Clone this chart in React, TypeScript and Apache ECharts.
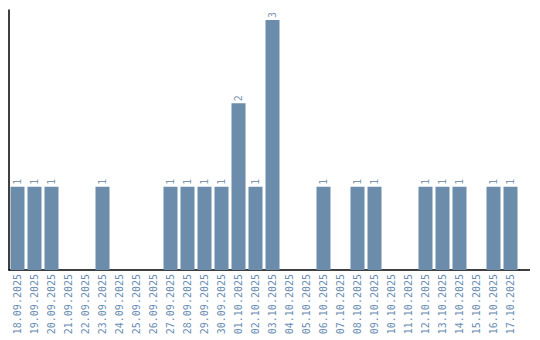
import React, { useEffect, useRef } from "react";
import * as echarts from "echarts";

const categories = [
  "18.09.2025", "19.09.2025", "20.09.2025", "21.09.2025", "22.09.2025",
  "23.09.2025", "24.09.2025", "25.09.2025", "26.09.2025", "27.09.2025",
  "28.09.2025", "29.09.2025", "30.09.2025", "01.10.2025", "02.10.2025",
  "03.10.2025", "04.10.2025", "05.10.2025", "06.10.2025", "07.10.2025",
  "08.10.2025", "09.10.2025", "10.10.2025", "11.10.2025", "12.10.2025",
  "13.10.2025", "14.10.2025", "15.10.2025", "16.10.2025", "17.10.2025",
];
const values = [1, 1, 1, 0, 0, 1, 0, 0, 0, 1, 1, 1, 1, 2, 1, 3, 0, 0, 1, 0, 1, 1, 0, 0, 1, 1, 1, 0, 1, 1];

const BAR = "#6b8cab";
const LABEL = "#6a8db2";

export default function App() {
  const ref = useRef<HTMLDivElement>(null);
  useEffect(() => {
    const chart = echarts.init(ref.current!, null, { renderer: "svg" });
    chart.setOption({
      animation: false,
      grid: { left: 9, top: 10, width: 510, height: 260, containLabel: false },
      xAxis: {
        type: "category",
        data: categories,
        axisLine: { show: true, lineStyle: { color: "#000", width: 1.5 } },
        axisTick: { show: false },
        axisLabel: {
          rotate: 90,
          interval: 0,
          color: LABEL,
          fontFamily: "DejaVu Sans Mono",
          fontSize: 10,
          margin: 4,
        },
      },
      yAxis: {
        type: "value",
        min: 0,
        max: 3.12,
        axisLine: { show: true, lineStyle: { color: "#000", width: 1.5 } },
        axisTick: { show: false },
        axisLabel: { show: false },
        splitLine: { show: false },
      },
      graphic: [
        {
          type: "line",
          shape: { x1: 519, y1: 270, x2: 530, y2: 270 },
          style: { stroke: "#000", lineWidth: 1.5 },
        },
      ],
      series: [
        {
          type: "bar",
          data: values,
          barWidth: 14,
          itemStyle: { color: BAR },
          label: {
            show: true,
            position: "top",
            rotate: 90,
            align: "left",
            verticalAlign: "middle",
            distance: 2,
            color: "#7f97ad",
            fontFamily: "DejaVu Sans Mono",
            fontSize: 10,
            formatter: (p: any) => (p.value ? String(p.value) : ""),
          },
        },
      ],
    });
    return () => chart.dispose();
  }, []);
  return <div ref={ref} style={{ width: 540, height: 340, position: "absolute", left: 0, top: 0 }} />;
}
